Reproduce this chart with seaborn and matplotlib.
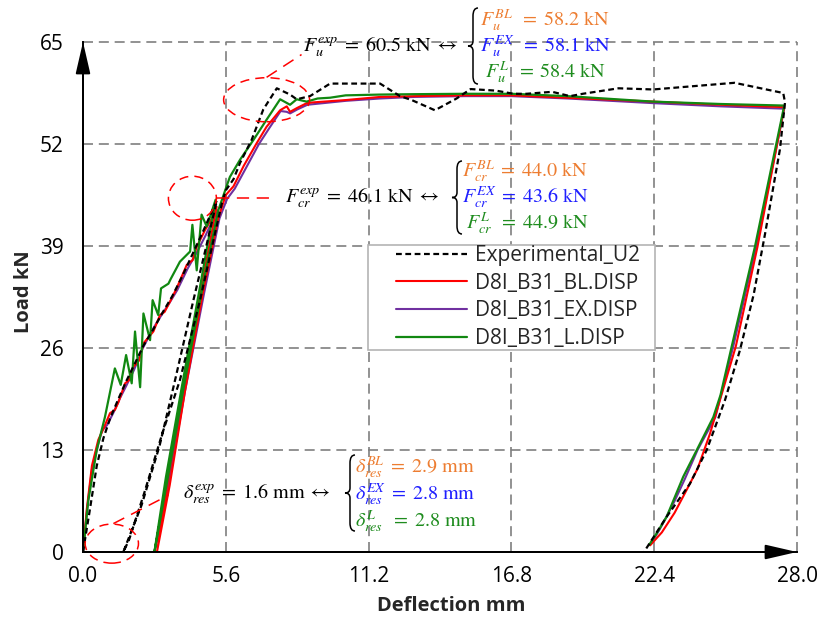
import numpy as np
import pandas as pd
import matplotlib
matplotlib.use("Agg")
import matplotlib.pyplot as plt
import seaborn as sns
from matplotlib.path import Path
from matplotlib.patches import PathPatch, Ellipse, Rectangle

# ---------------------------------------------------------------- data
# Experimental_U2: loading, unloading, reloading, plateau, final unloading
exp_x = [0, 0.25, 0.54, 0.8, 1.06, 1.4, 1.7, 2.0, 2.37, 2.76, 3.1, 3.5, 3.9, 4.3, 4.7, 5.0, 5.25,
         4.8, 4.33, 3.61, 3.0, 2.3, 1.58,
         1.8, 2.4, 3.1, 3.8, 4.59, 5.1, 5.45, 5.6,
         5.9, 6.16, 6.61, 7.07, 7.6, 8.12, 8.38, 8.9, 9.69, 11.65, 12.43, 12.89, 13.8, 14.65, 15.2,
         16.2, 16.88, 17.4, 18.4, 19.1, 19.6, 21.0, 22.36, 25.55, 27.46, 27.53,
         27.33, 26.75, 26.3, 25.76, 25.18, 24.46, 23.8, 22.89, 22.0]
exp_y = [0, 5.0, 11.0, 14.5, 17.0, 19.6, 21.8, 23.8, 26.3, 28.4, 30.4, 32.6, 35.2, 38.0, 40.8, 43.0, 44.8,
         38.5, 32.1, 21.9, 13.5, 6.0, 0,
         1.5, 7.5, 15.0, 21.9, 32.1, 39.5, 44.5, 46.1,
         47.5, 49.6, 52.5, 56.4, 59.1, 58.3, 57.7, 58.1, 59.7, 59.7, 58.1, 57.6, 56.3, 57.8, 59.0,
         58.8, 58.4, 58.4, 58.65, 58.1, 58.4, 59.1, 58.95, 59.8, 58.5, 57.3,
         51.3, 40.6, 32.8, 25.7, 19.4, 13.0, 8.7, 4.5, 0]

# D8I_B31_BL.DISP
bl_x = [0, 0.15, 0.35, 0.6, 0.8, 1.06, 1.25, 1.39, 1.65, 1.8, 1.97, 2.2, 2.37, 2.76, 3.02, 3.2, 3.41,
        3.67, 4.07, 4.3, 4.46, 4.78, 5.05, 5.24,
        4.6, 3.9, 3.3, 2.9,
        3.4, 4.0, 4.7, 5.3, 5.6,
        5.9, 6.3, 6.81, 7.2, 7.73, 7.99, 8.12, 8.4, 8.77, 9.0, 10.3, 11.65, 13.0, 15.0, 16.8,
        19.0, 22.4, 25.0, 27.5,
        26.45, 25.6, 24.59, 24.1, 23.67, 23.2, 22.7, 22.24]
bl_y = [0, 5.5, 11.0, 14.3, 15.7, 17.7, 18.1, 19.1, 21.5, 21.9, 23.6, 24.4, 26.6, 28.1, 30.2, 30.6, 31.9,
        33.6, 36.6, 37.2, 38.9, 41.0, 42.5, 44.0,
        33.0, 20.5, 8.5, 0,
        8.5, 20.5, 33.0, 42.5, 45.5,
        46.6, 49.2, 52.1, 54.2, 56.3, 56.8, 56.1, 56.6, 57.2, 57.3, 57.6, 58.0, 58.1, 58.2, 58.2,
        57.9, 57.4, 57.0, 56.7,
        38.9, 26.2, 15.1, 10.6, 7.9, 5.0, 2.5, 0.85]

# D8I_B31_EX.DISP
ex_x = [0, 0.15, 0.35, 0.6, 0.75, 0.95, 1.2, 1.45, 1.7, 2.0, 2.35, 2.7, 3.0, 3.4, 3.7, 4.1, 4.5,
        4.8, 5.1, 5.3,
        4.65, 3.95, 3.3, 2.8,
        3.35, 4.0, 4.75, 5.35, 5.65,
        5.95, 6.4, 6.9, 7.3, 7.75, 7.99, 8.12, 8.4, 8.8, 9.1, 10.3, 11.65, 13.0, 15.0, 16.8,
        19.0, 22.4, 25.0, 27.5,
        26.4, 25.5, 24.8, 24.1, 23.6, 23.2, 22.8, 22.6, 22.3]
ex_y = [0, 5.2, 10.5, 13.8, 15.5, 16.2, 17.8, 19.6, 21.2, 23.2, 26.0, 28.2, 29.8, 31.8, 33.4, 36.1, 38.4,
        40.3, 42.4, 43.6,
        33.0, 20.5, 8.5, 0,
        8.5, 20.5, 33.0, 42.5, 45.0,
        46.3, 49.0, 52.0, 54.0, 56.2, 56.1, 55.9, 56.4, 57.0, 57.1, 57.5, 57.8, 58.0, 58.1, 58.1,
        57.8, 57.2, 56.8, 56.5,
        38.9, 26.2, 17.2, 13.0, 9.3, 6.5, 4.0, 2.8, 1.2]

# D8I_B31_L.DISP
l_x = [0, 0.21, 0.54, 0.86, 1.25, 1.48, 1.69, 1.91, 2.04, 2.24, 2.37, 2.63, 2.73, 2.95, 3.06, 3.35,
       3.44, 3.67, 3.8, 4.2, 4.29, 4.46, 4.65, 4.85, 4.98, 5.2,
       4.6, 3.9, 3.25, 2.8,
       3.3, 3.95, 4.7, 5.3, 5.63,
       5.76, 6.16, 6.68, 7.2, 7.73, 8.12, 8.38, 8.77, 9.2, 9.69, 10.3, 11.65, 13.0, 15.0, 16.8,
       19.0, 22.36, 25.0, 27.5,
       26.35, 25.44, 25.0, 24.72, 24.07, 23.54, 22.89, 22.5, 22.2]
l_y = [0, 6.6, 13.0, 17.2, 23.4, 21.3, 25.1, 21.5, 28.1, 21.0, 30.4, 27.0, 32.1, 30.2, 33.6, 34.2,
       34.8, 36.2, 37.0, 38.3, 41.7, 35.9, 43.0, 41.5, 42.7, 44.9,
       34.0, 21.5, 9.5, 0,
       9.0, 21.0, 34.0, 43.5, 46.6,
       47.8, 50.0, 52.5, 55.1, 57.7, 57.0, 57.7, 57.4, 57.8, 57.9, 58.2, 58.3, 58.35, 58.4, 58.4,
       58.1, 57.4, 57.1, 56.9,
       38.9, 26.2, 20.0, 17.2, 13.0, 9.6, 4.5, 2.4, 0.9]

x_ticks = [0.0, 5.6, 11.2, 16.8, 22.4, 28.0]
y_ticks = [0, 13, 26, 39, 52, 65]

# ---------------------------------------------------------------- style
sns.set_theme(style="white")
plt.rcParams['font.family'] = ['Open Sans', 'DejaVu Sans']
plt.rcParams['mathtext.fontset'] = 'stix'

W, H = 818, 622
fig = plt.figure(figsize=(W / 100, H / 100), dpi=100)
ax = fig.add_axes([83 / W, 1 - 552 / H, (797 - 83) / W, (552 - 42) / H])


def fx(px):
    return px / W


def fy(py):
    return 1 - py / H


C_EXP, C_BL, C_EX, C_L = 'black', '#FF0000', '#7030A0', '#118811'
T_BL, T_EX, T_L = '#ED7D31', '#1F1FFF', '#1E8C1E'

frames = {
    'Experimental_U2': (exp_x, exp_y),
    'D8I_B31_BL.DISP': (bl_x, bl_y),
    'D8I_B31_EX.DISP': (ex_x, ex_y),
    'D8I_B31_L.DISP': (l_x, l_y),
}

lines = {}
draw_order = [('D8I_B31_EX.DISP', C_EX, '-', 1.5),
              ('D8I_B31_BL.DISP', C_BL, '-', 1.5),
              ('D8I_B31_L.DISP', C_L, '-', 1.6),
              ('Experimental_U2', C_EXP, (0, (2.6, 1.6)), 1.6)]
for name, col, ls, lw in draw_order:
    xs, ys = frames[name]
    df = pd.DataFrame({'x': xs, 'y': ys})
    n_before = len(ax.lines)
    sns.lineplot(data=df, x='x', y='y', sort=False, estimator=None, ax=ax,
                 color=col, linewidth=lw, linestyle=ls, zorder=3)
    lines[name] = ax.lines[n_before]

# ---------------------------------------------------------------- axes
ax.set_xlim(0, 28)
ax.set_ylim(0, 65)
ax.set_xticks(x_ticks)
ax.set_xticklabels([f'{v:.1f}' for v in x_ticks])
ax.set_yticks(y_ticks)
ax.set_yticklabels([str(v) for v in y_ticks])
ax.grid(True, color='#7f7f7f', linestyle=(0, (6, 3.5)), linewidth=1.2)
for gl in ax.get_xgridlines() + ax.get_ygridlines():
    gl.set_clip_on(False)
ax.set_axisbelow(True)
for s in ['top', 'right']:
    ax.spines[s].set_visible(False)
for s in ['left', 'bottom']:
    ax.spines[s].set_color('black')
    ax.spines[s].set_linewidth(1.4)
    ax.spines[s].set_zorder(4)
ax.tick_params(axis='both', direction='inout', length=9.5, width=1.2, color='black',
               labelsize=15, labelcolor='black')
ax.tick_params(axis='y', pad=9)
ax.tick_params(axis='x', pad=5)
ax.set_xlabel('')
ax.set_ylabel('')
fig.text(fx(451), fy(606), 'Deflection mm', fontsize=14.5, fontweight='bold',
         ha='center', va='center')
fig.text(fx(24), fy(292), 'Load kN', fontsize=14.5, fontweight='bold',
         ha='center', va='center', rotation=90)

# axis arrows
ax.annotate('', xy=(0, 65), xytext=(0, 0), xycoords='data',
            arrowprops=dict(arrowstyle='-|>,head_length=1.3,head_width=0.3',
                            mutation_scale=15, color='black', lw=1.4,
                            shrinkA=0, shrinkB=0), annotation_clip=False, zorder=6)
ax.annotate('', xy=(28, 0), xytext=(0, 0), xycoords='data',
            arrowprops=dict(arrowstyle='-|>,head_length=1.3,head_width=0.3',
                            mutation_scale=15, color='black', lw=1.4,
                            shrinkA=0, shrinkB=0), annotation_clip=False, zorder=6)

# ---------------------------------------------------------------- legend
ax.add_patch(Rectangle((fx(368), fy(350)), fx(655) - fx(368), fy(245) - fy(350),
                       transform=fig.transFigure, facecolor='white',
                       edgecolor='#b4b4b4', linewidth=1.2, zorder=4, clip_on=False))
order = ['Experimental_U2', 'D8I_B31_BL.DISP', 'D8I_B31_EX.DISP', 'D8I_B31_L.DISP']
leg = ax.legend([lines[k] for k in order], order, loc='upper left',
                bbox_to_anchor=(fx(396), fy(245)), bbox_transform=fig.transFigure,
                frameon=False, fontsize=15, handlelength=3.4, handletextpad=0.4,
                borderpad=0, borderaxespad=0, labelspacing=0.32)
leg.set_zorder(5)

# ---------------------------------------------------------------- annotations
def brace(xtip, top, bot, w=10, color='black'):
    mid = (top + bot) / 2
    xm = xtip + w / 2
    xr = xtip + w
    r = w / 2
    pts = [(xr, top), (xm, top), (xm, top + r * 1.6),
           (xm, mid - r), (xm, mid), (xtip, mid),
           (xm, mid), (xm, mid + r),
           (xm, bot - r * 1.6), (xm, bot), (xr, bot)]
    codes = [Path.MOVETO, Path.CURVE3, Path.CURVE3,
             Path.LINETO, Path.CURVE3, Path.CURVE3,
             Path.CURVE3, Path.CURVE3,
             Path.LINETO, Path.CURVE3, Path.CURVE3]
    verts = [(fx(a), fy(b)) for a, b in pts]
    fig.patches.append(PathPatch(Path(verts, codes), transform=fig.transFigure,
                                 facecolor='none', edgecolor=color, lw=1.1))


def mtext(px, py, s, color='black', size=14.5):
    fig.text(fx(px), fy(py), s, color=color, fontsize=size, ha='left', va='baseline')


# ultimate load
mtext(303, 52, r'$F_u^{exp}\;=\;60.5\ \mathrm{kN}\;\leftrightarrow$')
brace(468, 8, 84)
mtext(480, 26, r'$F_u^{BL}\;\;=\;58.2\ \mathrm{kN}$', T_BL)
mtext(480, 52, r'$F_u^{EX}\;\;=\;58.1\ \mathrm{kN}$', T_EX)
mtext(485, 78, r'$F_u^{L}\;\;=\;58.4\ \mathrm{kN}$', T_L)

# cracking load
mtext(285, 203, r'$F_{cr}^{exp}\;=\;46.1\ \mathrm{kN}\;\leftrightarrow$')
brace(452, 161, 234)
mtext(462, 177, r'$F_{cr}^{BL}\;=\;44.0\ \mathrm{kN}$', T_BL)
mtext(462, 203, r'$F_{cr}^{EX}\;=\;43.6\ \mathrm{kN}$', T_EX)
mtext(466, 229, r'$F_{cr}^{L}\;\;=\;44.9\ \mathrm{kN}$', T_L)

# residual deflection
mtext(183, 499, r'$\delta_{res}^{exp}\;=\;1.6\ \mathrm{mm}\;\leftrightarrow$')
brace(345, 455, 531)
mtext(355, 473, r'$\delta_{res}^{BL}\;=\;2.9\ \mathrm{mm}$', T_BL)
mtext(355, 500, r'$\delta_{res}^{EX}\;=\;2.8\ \mathrm{mm}$', T_EX)
mtext(355, 527, r'$\delta_{res}^{L}\;\;=\;2.8\ \mathrm{mm}$', T_L)

# highlight ellipses and leaders
ell_style = dict(fill=False, edgecolor='red', lw=1.1, linestyle=(0, (6, 4)),
                 clip_on=False, zorder=5)
ax.add_patch(Ellipse((7.20, 57.64), 3.37, 5.61, **ell_style))
ax.add_patch(Ellipse((4.29, 45.09), 1.88, 5.61, **ell_style))
ax.add_patch(Ellipse((1.13, 1.07), 2.09, 4.98, **ell_style))
lead = dict(color='red', lw=1.1, linestyle=(0, (8, 5)), clip_on=False, zorder=5)
ax.plot([7.2, 8.57], [60.5, 63.4], **lead)
ax.plot([5.25, 7.41], [45.09, 45.09], **lead)
ax.plot([1.19, 3.35], [3.62, 7.23], **lead)

fig.savefig('out.png', dpi=100)
